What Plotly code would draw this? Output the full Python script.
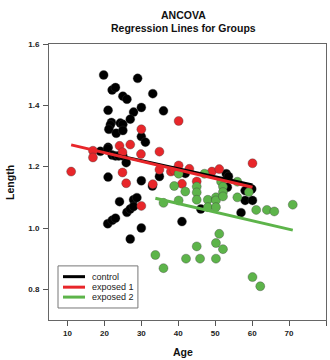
import plotly.graph_objects as go

# ---- data ----
groups = ["control", "exposed 1", "exposed 2"]
colors = ["#000000", "#E8262A", "#5DB44A"]

control_age = [19.8, 29.0, 22.1, 23.0, 25.0, 26.1, 33.1, 21.0, 27.9, 30.0, 36.0, 27.0,
               21.9, 21.6, 24.3, 25.0, 21.2, 23.2, 25.0, 30.0, 31.1, 21.0, 18.9, 20.9,
               22.1, 23.0, 23.9, 25.0, 25.9, 21.0, 30.0, 34.9, 33.0, 41.9, 53.0, 53.6,
               53.3, 58.1, 59.9, 58.1, 60.1, 46.1, 57.0, 41.0, 24.1, 27.9, 28.8, 26.1,
               27.0, 27.9, 20.9, 22.1, 23.0, 30.0, 27.0]
control_len = [1.499, 1.488, 1.450, 1.458, 1.430, 1.420, 1.438, 1.384, 1.378, 1.393, 1.382, 1.355,
               1.344, 1.336, 1.342, 1.338, 1.322, 1.309, 1.318, 1.298, 1.280, 1.263, 1.250, 1.259,
               1.238, 1.235, 1.235, 1.235, 1.213, 1.166, 1.154, 1.168, 1.137, 1.178, 1.177, 1.168,
               1.133, 1.122, 1.127, 1.090, 1.090, 1.062, 1.050, 1.021, 1.086, 1.092, 1.099, 1.051,
               1.062, 1.070, 1.014, 1.025, 1.032, 1.000, 0.964]

exp1_age = [11.0, 16.9, 16.9, 24.1, 27.0, 24.9, 29.9, 30.0, 34.9, 40.1, 24.9, 25.9,
            33.1, 34.9, 38.0, 38.9, 40.1, 43.0, 41.0, 45.0, 49.1, 51.1, 60.1, 30.0]
exp1_len = [1.184, 1.252, 1.230, 1.268, 1.272, 1.247, 1.241, 1.322, 1.249, 1.349, 1.181, 1.146,
            1.143, 1.190, 1.184, 1.187, 1.204, 1.193, 1.144, 1.152, 1.184, 1.192, 1.211, 1.072]

exp2_age = [33.8, 36.0, 42.1, 45.9, 50.2, 45.0, 50.2, 51.1, 52.1, 60.1, 62.2, 36.0,
            40.1, 38.9, 41.9, 45.0, 45.0, 45.0, 48.0, 48.0, 50.2, 50.2, 50.2, 51.6,
            52.1, 52.1, 52.1, 56.0, 56.0, 59.1, 61.1, 64.0, 66.0, 71.0, 40.1, 47.1]
exp2_len = [0.912, 0.869, 0.900, 0.900, 0.900, 0.940, 0.951, 0.981, 0.931, 0.840, 0.810, 1.082,
            1.090, 1.137, 1.119, 1.135, 1.116, 1.092, 1.092, 1.068, 1.100, 1.090, 1.068, 1.151,
            1.135, 1.117, 1.103, 1.151, 1.100, 1.117, 1.059, 1.059, 1.054, 1.076, 1.177, 1.177]

# regression line end points (age, fitted length) per group
line_age = [[18.9, 60.1], [11.0, 60.1], [33.8, 71.0]]
line_len = [[1.249, 1.140], [1.271, 1.133], [1.097, 0.993]]

x_ticks = [10, 20, 30, 40, 50, 60, 70, 80]
y_ticks = [0.8, 1.0, 1.2, 1.4, 1.6]

title_lines = ["ANCOVA", "Regression Lines for Groups"]

ages = [control_age, exp1_age, exp2_age]
lens = [control_len, exp1_len, exp2_len]

FONT = "Liberation Sans, Arial, sans-serif"

fig = go.Figure()
for g, c, a, l in zip(groups, colors, ages, lens):
    fig.add_trace(go.Scatter(
        x=a, y=l, mode="markers", name=g, showlegend=False,
        marker=dict(size=9, color=c, line=dict(color="rgba(60,60,60,0.6)", width=0.6)),
    ))
for g, c, a, l in zip(groups, colors, line_age, line_len):
    fig.add_trace(go.Scatter(
        x=a, y=l, mode="lines", name=g, showlegend=False,
        line=dict(color=c, width=3),
    ))

# legend drawn in paper coordinates
lx0, lx1, ly0, ly1 = 0.0325, 0.321, 0.0435, 0.196
fig.add_shape(type="rect", xref="paper", yref="paper", x0=lx0, x1=lx1, y0=ly0, y1=ly1,
              line=dict(color="#777777", width=1), fillcolor="white", layer="above")
row_y = [0.157, 0.119, 0.083]
for g, c, yy in zip(groups, colors, row_y):
    fig.add_shape(type="line", xref="paper", yref="paper", x0=0.0505, x1=0.13, y0=yy, y1=yy,
                  line=dict(color=c, width=3), layer="above")
    fig.add_annotation(xref="paper", yref="paper", x=0.148, y=yy, text=g, showarrow=False,
                       xanchor="left", yanchor="middle",
                       font=dict(family=FONT, size=9, color="#222222"))

# title lines
for t, ty in zip(title_lines, [1.105, 1.058]):
    fig.add_annotation(xref="paper", yref="paper", x=0.486, y=ty, text=f"<b>{t}</b>",
                       showarrow=False, xanchor="center", yanchor="middle",
                       font=dict(family=FONT, size=10.5, color="#111111"))

# axis titles
fig.add_annotation(xref="paper", yref="paper", x=0.485, y=-0.116, text="<b>Age</b>",
                   showarrow=False, xanchor="center", yanchor="middle",
                   font=dict(family=FONT, size=10.5, color="#111111"))
fig.add_annotation(xref="paper", yref="paper", x=-0.141, y=0.5, text="<b>Length</b>",
                   showarrow=False, xanchor="center", yanchor="middle", textangle=-90,
                   font=dict(family=FONT, size=10.5, color="#111111"))

fig.update_layout(
    width=330, height=360,
    margin=dict(l=49, r=4, t=44, b=40, autoexpand=False),
    paper_bgcolor="white", plot_bgcolor="white",
    font=dict(family=FONT, color="#222222"),
)
fig.update_xaxes(range=[5, 80], tickvals=x_ticks, ticktext=[f"<b>{v}</b>" for v in x_ticks],
                 ticks="outside", ticklen=5, tickcolor="#555555", showgrid=False, zeroline=False,
                 showline=True, linecolor="#666666", linewidth=1, mirror=True, automargin=False,
                 tickfont=dict(size=8, family=FONT, color="#222222"))
fig.update_yaxes(range=[0.70, 1.60], tickvals=y_ticks, ticktext=[f"<b>{v:.1f}</b>" for v in y_ticks],
                 ticks="outside", ticklen=5, tickcolor="#555555", showgrid=False, zeroline=False,
                 showline=True, linecolor="#666666", linewidth=1, mirror=True, automargin=False,
                 ticklabelstandoff=2,
                 tickfont=dict(size=8, family=FONT, color="#222222"))

fig.write_html("out.html", config={"displayModeBar": False},
               post_script="document.body.style.margin='0';document.body.style.overflow='hidden';")
